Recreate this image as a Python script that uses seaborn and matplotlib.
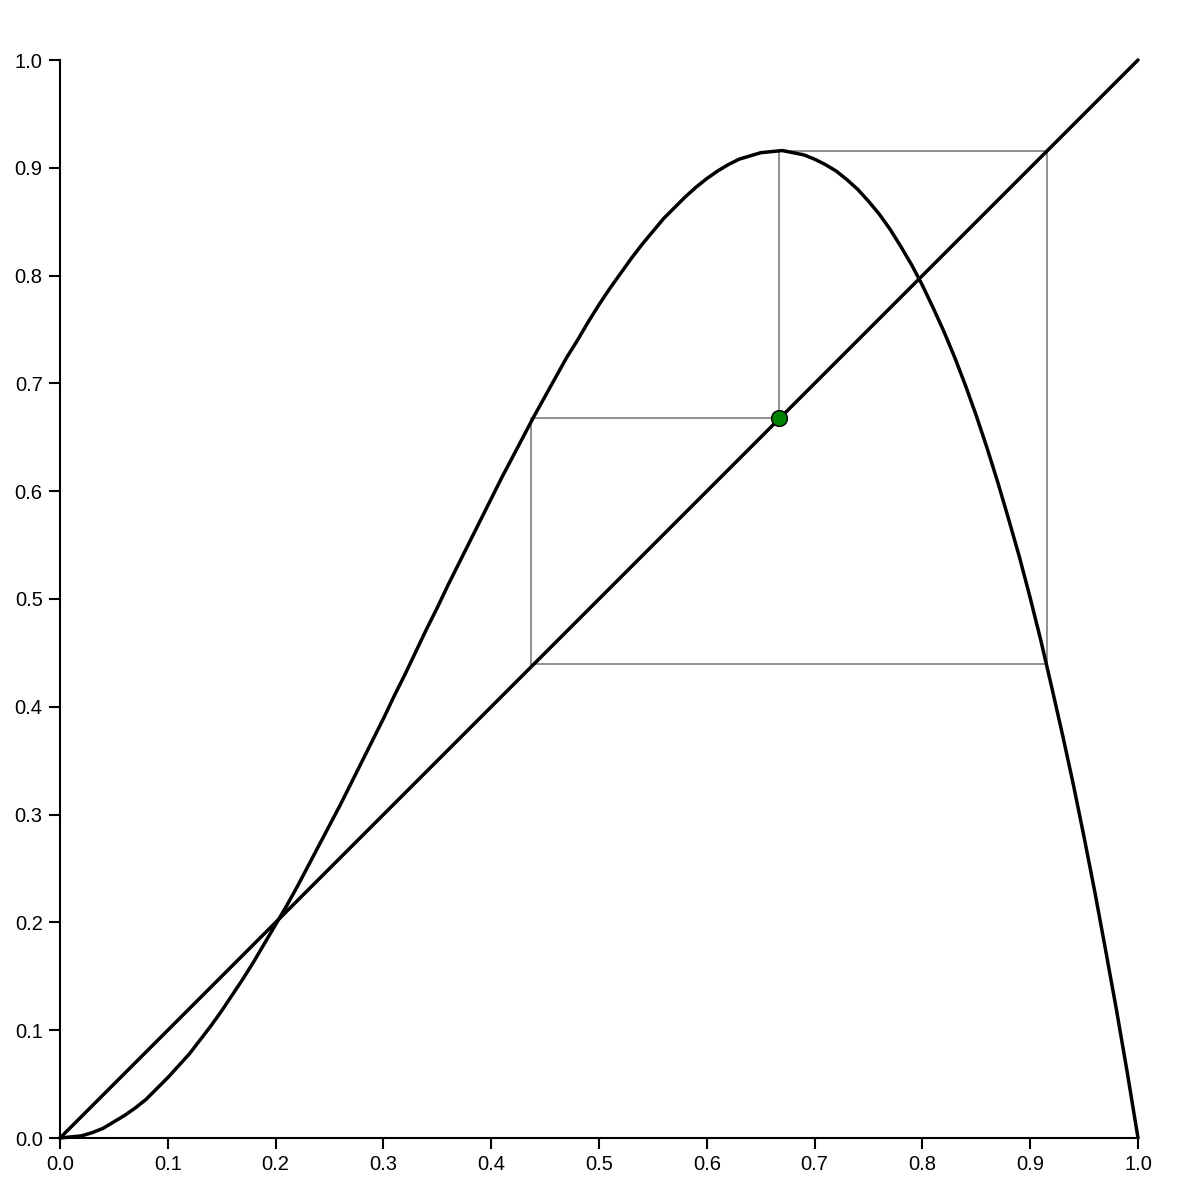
import matplotlib
matplotlib.use("Agg")
import matplotlib.pyplot as plt
import seaborn as sns
import pandas as pd

# Curve values
curve_x = [0.00, 0.01, 0.02, 0.03, 0.04, 0.05, 0.06, 0.07, 0.08, 0.09,
           0.10, 0.11, 0.12, 0.13, 0.14, 0.15, 0.16, 0.17, 0.18, 0.19,
           0.20, 0.21, 0.22, 0.23, 0.24, 0.25, 0.26, 0.27, 0.28, 0.29,
           0.30, 0.31, 0.32, 0.33, 0.34, 0.35, 0.36, 0.37, 0.38, 0.39,
           0.40, 0.41, 0.42, 0.43, 0.44, 0.45, 0.46, 0.47, 0.48, 0.49,
           0.50, 0.51, 0.52, 0.53, 0.54, 0.55, 0.56, 0.57, 0.58, 0.59,
           0.60, 0.61, 0.62, 0.63, 0.64, 0.65, 0.66, 0.67, 0.68, 0.69,
           0.70, 0.71, 0.72, 0.73, 0.74, 0.75, 0.76, 0.77, 0.78, 0.79,
           0.80, 0.81, 0.82, 0.83, 0.84, 0.85, 0.86, 0.87, 0.88, 0.89,
           0.90, 0.91, 0.92, 0.93, 0.94, 0.95, 0.96, 0.97, 0.98, 0.99, 1.00]
curve_y = [0.000, 0.001, 0.002, 0.005, 0.009, 0.015, 0.021, 0.028, 0.036, 0.046,
           0.056, 0.067, 0.078, 0.091, 0.104, 0.118, 0.133, 0.148, 0.164, 0.181,
           0.198, 0.215, 0.233, 0.252, 0.271, 0.290, 0.309, 0.329, 0.349, 0.369,
           0.389, 0.410, 0.430, 0.451, 0.472, 0.492, 0.513, 0.533, 0.553, 0.573,
           0.593, 0.613, 0.632, 0.651, 0.670, 0.688, 0.706, 0.724, 0.740, 0.757,
           0.773, 0.788, 0.802, 0.816, 0.829, 0.841, 0.853, 0.863, 0.873, 0.882,
           0.890, 0.897, 0.903, 0.908, 0.911, 0.914, 0.915, 0.916, 0.914, 0.912,
           0.908, 0.903, 0.897, 0.889, 0.880, 0.869, 0.857, 0.843, 0.827, 0.810,
           0.791, 0.770, 0.748, 0.724, 0.698, 0.670, 0.640, 0.608, 0.574, 0.539,
           0.501, 0.461, 0.418, 0.374, 0.328, 0.279, 0.228, 0.174, 0.119, 0.061, 0.000]

diag_x = [0.0, 1.0]
diag_y = [0.0, 1.0]

cobweb_x = [0.437, 0.437, 0.667, 0.667, 0.916, 0.916, 0.437]
cobweb_y = [0.440, 0.668, 0.668, 0.916, 0.916, 0.440, 0.440]

point_x = [0.667]
point_y = [0.668]

ticks = [0.0, 0.1, 0.2, 0.3, 0.4, 0.5, 0.6, 0.7, 0.8, 0.9, 1.0]
tick_labels = ["0.0", "0.1", "0.2", "0.3", "0.4", "0.5", "0.6", "0.7", "0.8", "0.9", "1.0"]

sns.set_style("ticks")
plt.rcParams['font.family'] = ['Liberation Sans', 'DejaVu Sans']

fig = plt.figure(figsize=(11.98, 11.98), dpi=100)
ax = fig.add_axes([60/1198, 60/1198, 1078/1198, 1078/1198])

cob = pd.DataFrame({"x": cobweb_x, "y": cobweb_y})
sns.lineplot(data=cob, x="x", y="y", sort=False, estimator=None, ax=ax,
             color="#888888", linewidth=1.3, zorder=1)

dg = pd.DataFrame({"x": diag_x, "y": diag_y})
sns.lineplot(data=dg, x="x", y="y", sort=False, estimator=None, ax=ax,
             color="black", linewidth=2.5, zorder=2)

cv = pd.DataFrame({"x": curve_x, "y": curve_y})
sns.lineplot(data=cv, x="x", y="y", sort=False, estimator=None, ax=ax,
             color="black", linewidth=2.5, zorder=3)

pt = pd.DataFrame({"x": point_x, "y": point_y})
sns.scatterplot(data=pt, x="x", y="y", ax=ax, s=130, color="green",
                edgecolor="black", linewidth=1.0, zorder=5)

for line in ax.lines:
    line.set_clip_on(False)
    line.set_solid_joinstyle("round")
for coll in ax.collections:
    coll.set_clip_on(False)

ax.set_xlim(0, 1)
ax.set_ylim(0, 1)
ax.set_xticks(ticks)
ax.set_xticklabels(tick_labels)
ax.set_yticks(ticks)
ax.set_yticklabels(tick_labels)
ax.set_xlabel("")
ax.set_ylabel("")
sns.despine(ax=ax)
for s in ["left", "bottom"]:
    ax.spines[s].set_linewidth(1.5)
    ax.spines[s].set_color("black")
ax.tick_params(axis="both", length=8, width=1.5, color="black",
               labelsize=14.5, labelcolor="black", pad=4.5)

fig.savefig("out.png", dpi=100)
